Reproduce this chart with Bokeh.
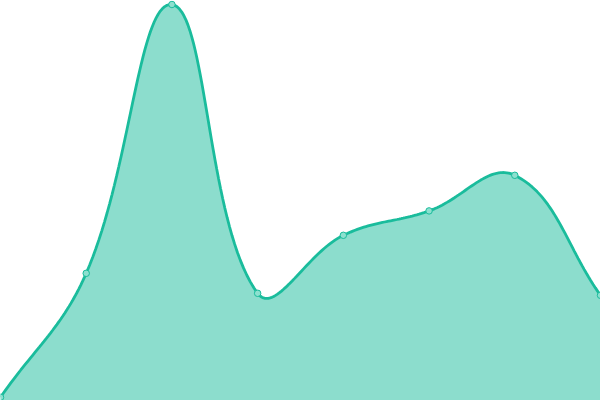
import numpy as np
from bokeh.plotting import figure
from bokeh.models import Range1d
from bokeh.embed import file_html
from bokeh.resources import INLINE

# data
labels = ["A", "B", "C", "D", "E", "F", "G", "H"]
values = [0.8, 31.8, 99.0, 26.8, 41.3, 47.4, 56.3, 26.3]

Y_MIN, Y_MAX = 0, 100
W, H = 600, 400
TENSION = 0.4

xs = np.arange(len(values), dtype=float)
n = len(values)

# pixel space for spline control points (Chart.js-style)
px = xs / (n - 1) * W
py = H - (np.array(values) - Y_MIN) / (Y_MAX - Y_MIN) * H

def controls(i):
    prev_i = max(i - 1, 0)
    next_i = min(i + 1, n - 1)
    p0 = np.array([px[prev_i], py[prev_i]])
    p1 = np.array([px[i], py[i]])
    p2 = np.array([px[next_i], py[next_i]])
    d01 = np.hypot(*(p1 - p0))
    d12 = np.hypot(*(p2 - p1))
    tot = d01 + d12
    s01 = d01 / tot if tot else 0
    s12 = d12 / tot if tot else 0
    fa = TENSION * s01
    fb = TENSION * s12
    c_prev = p1 - fa * (p2 - p0)
    c_next = p1 + fb * (p2 - p0)
    c_prev[1] = min(max(c_prev[1], 0), H)
    c_next[1] = min(max(c_next[1], 0), H)
    c_prev[0] = min(max(c_prev[0], 0), W)
    c_next[0] = min(max(c_next[0], 0), W)
    return c_prev, c_next

ctrl = [controls(i) for i in range(n)]
cx, cy = [], []
t = np.linspace(0, 1, 40)
for i in range(n - 1):
    P0 = np.array([px[i], py[i]])
    P1 = ctrl[i][1]
    P2 = ctrl[i + 1][0]
    P3 = np.array([px[i + 1], py[i + 1]])
    seg = ((1 - t) ** 3)[:, None] * P0 + (3 * (1 - t) ** 2 * t)[:, None] * P1 + \
          (3 * (1 - t) * t ** 2)[:, None] * P2 + (t ** 3)[:, None] * P3
    if i > 0:
        seg = seg[1:]
    cx.extend(seg[:, 0])
    cy.extend(seg[:, 1])

cx = np.array(cx) / W * (n - 1)
cy = Y_MIN + (H - np.array(cy)) / H * (Y_MAX - Y_MIN)

p = figure(width=W, height=H, output_backend="svg", toolbar_location=None,
           x_range=Range1d(0, n - 1), y_range=Range1d(Y_MIN, Y_MAX),
           min_border=0)
p.axis.visible = False
p.grid.visible = False
p.outline_line_color = None
p.background_fill_color = "white"
p.border_fill_color = "white"

p.varea(x=cx, y1=np.zeros_like(cy) + Y_MIN, y2=cy, fill_color="#1abc9c", fill_alpha=0.5)
p.line(cx, cy, line_color="#1abc9c", line_width=2.8)
p.scatter(xs, values, size=6.5, fill_color="#8de0cf", line_color="#1abc9c", line_width=1)

open("out.html", "w").write(file_html(p, INLINE))
